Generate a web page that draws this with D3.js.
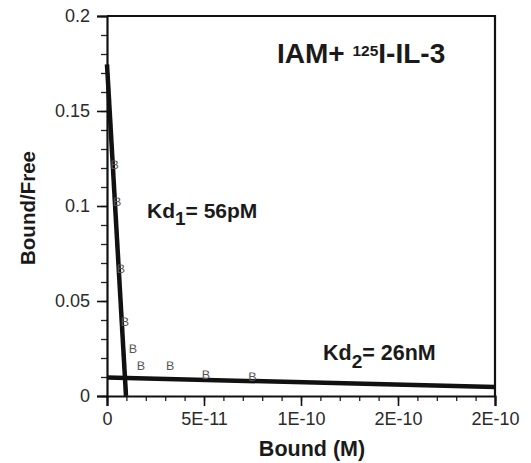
<!DOCTYPE html>
<html>
<head>
<meta charset="utf-8">
<script src="https://cdn.jsdelivr.net/npm/d3@7"></script>
<style>
  html, body { margin: 0; padding: 0; background: #fff; }
  svg { display: block; font-family: "Liberation Sans", Arial, Helvetica, sans-serif; }
</style>
</head>
<body>
<svg id="chart" width="531" height="463"></svg>
<script>
// ---- data ----
const boundValues = [4.0e-12, 5.2e-12, 7.2e-12, 9.3e-12, 1.34e-11, 1.75e-11, 3.25e-11, 5.1e-11, 7.5e-11];
const ratioValues = [0.122, 0.1025, 0.067, 0.039, 0.025, 0.016, 0.016, 0.0115, 0.0105];
const highAffinityX = [0, 9.8e-12];
const highAffinityY = [0.1745, 0];
const lowAffinityX = [0, 2e-10];
const lowAffinityY = [0.0097, 0.0048];
const xTickValues = [0, 5e-11, 1e-10, 1.5e-10, 2e-10];
const xTickLabels = ["0", "5E-11", "1E-10", "2E-10", "2E-10"];
const yTickValues = [0, 0.05, 0.1, 0.15, 0.2];
const yTickLabels = ["0", "0.05", "0.1", "0.15", "0.2"];
const xMinorTicks = d3.range(0, 21).map(i => i * 1e-11);
const yMinorTicks = d3.range(0, 21).map(i => i * 0.01);

// ---- layout ----
const margin = {left: 107, top: 16, right: 36, bottom: 67};
const W = 531, H = 463;
const svg = d3.select("#chart");
const x = d3.scaleLinear().domain([0, 2e-10]).range([margin.left, W - margin.right]);
const y = d3.scaleLinear().domain([0, 0.2]).range([H - margin.bottom, margin.top]);
const FONT = "'Liberation Sans', Arial, sans-serif";

// frame (top and right)
svg.append("path")
  .attr("d", `M${x(0)},${y(0.2)}H${x(2e-10)}V${y(0)}`)
  .attr("fill", "none").attr("stroke", "#111").attr("stroke-width", 2.2);

// minor ticks
const xMinor = d3.axisBottom(x).tickValues(xMinorTicks).tickSize(5).tickFormat("");
svg.append("g").attr("transform", `translate(0,${y(0)})`).call(xMinor)
  .call(g => g.select(".domain").remove())
  .call(g => g.selectAll("line").attr("stroke", "#222").attr("stroke-width", 1.3));
const yMinor = d3.axisLeft(y).tickValues(yMinorTicks).tickSize(6).tickFormat("");
svg.append("g").attr("transform", `translate(${x(0)},0)`).call(yMinor)
  .call(g => g.select(".domain").remove())
  .call(g => g.selectAll("line").attr("stroke", "#222").attr("stroke-width", 1.3));

// major axes
const xAxis = d3.axisBottom(x).tickValues(xTickValues).tickSize(10).tickPadding(6)
  .tickFormat((d, i) => xTickLabels[i]);
svg.append("g").attr("transform", `translate(0,${y(0)})`).call(xAxis)
  .call(g => g.select(".domain").attr("stroke", "#111").attr("stroke-width", 2.2))
  .call(g => g.selectAll("line").attr("stroke", "#111").attr("stroke-width", 1.6))
  .call(g => g.selectAll("text").attr("font-size", 18).attr("fill", "#2a2a2a")
    .attr("font-family", FONT));
const yAxis = d3.axisLeft(y).tickValues(yTickValues).tickSize(10).tickPadding(7)
  .tickFormat((d, i) => yTickLabels[i]);
svg.append("g").attr("transform", `translate(${x(0)},0)`).call(yAxis)
  .call(g => g.select(".domain").attr("stroke", "#111").attr("stroke-width", 2.2))
  .call(g => g.selectAll("line").attr("stroke", "#111").attr("stroke-width", 1.6))
  .call(g => g.selectAll("text").attr("font-size", 18).attr("fill", "#2a2a2a")
    .attr("font-family", FONT));

// fitted lines
const line = d3.line().x(d => x(d[0])).y(d => y(d[1]));
svg.append("path").datum(d3.zip(lowAffinityX, lowAffinityY)).attr("d", line)
  .attr("fill", "none").attr("stroke", "#111").attr("stroke-width", 4.5);
svg.append("path").datum(d3.zip(highAffinityX, highAffinityY)).attr("d", line)
  .attr("fill", "none").attr("stroke", "#111").attr("stroke-width", 4.5);

// data points drawn as "B" glyphs
svg.append("g").selectAll("text").data(d3.zip(boundValues, ratioValues)).join("text")
  .attr("x", d => x(d[0])).attr("y", d => y(d[1]))
  .attr("dy", "0.36em").attr("text-anchor", "middle")
  .attr("font-size", 12.5).attr("fill", "#555")
  .style("text-rendering", "geometricPrecision")
  .text("B");

// title
const t = svg.append("text").attr("x", 277).attr("y", 63)
  .attr("font-weight", "bold").attr("font-size", 28).attr("fill", "#1a1a1a");
t.append("tspan").text("IAM+ ");
t.append("tspan").attr("font-size", 15.5).attr("dy", -7).text("125");
t.append("tspan").attr("dy", 7).text("I-IL-3");

// Kd annotations
const k1 = svg.append("text").attr("x", 147).attr("y", 218)
  .attr("font-weight", "bold").attr("font-size", 21).attr("fill", "#1a1a1a");
k1.append("tspan").text("Kd");
k1.append("tspan").attr("font-size", 19).attr("dy", 7).text("1");
k1.append("tspan").attr("dy", -7).text("= 56pM");

const k2 = svg.append("text").attr("x", 323).attr("y", 360)
  .attr("font-weight", "bold").attr("font-size", 21.5).attr("fill", "#1a1a1a");
k2.append("tspan").text("Kd");
k2.append("tspan").attr("font-size", 19).attr("dy", 8).text("2");
k2.append("tspan").attr("dy", -8).text("= 26nM");

// axis titles
svg.append("text").attr("x", 312).attr("y", 456).attr("text-anchor", "middle")
  .attr("font-weight", "bold").attr("font-size", 21.5).attr("fill", "#1a1a1a")
  .text("Bound (M)");
svg.append("text").attr("transform", "translate(35,208) rotate(-90)").attr("text-anchor", "middle")
  .attr("font-weight", "bold").attr("font-size", 20.5).attr("fill", "#1a1a1a")
  .text("Bound/Free");
</script>
</body>
</html>
